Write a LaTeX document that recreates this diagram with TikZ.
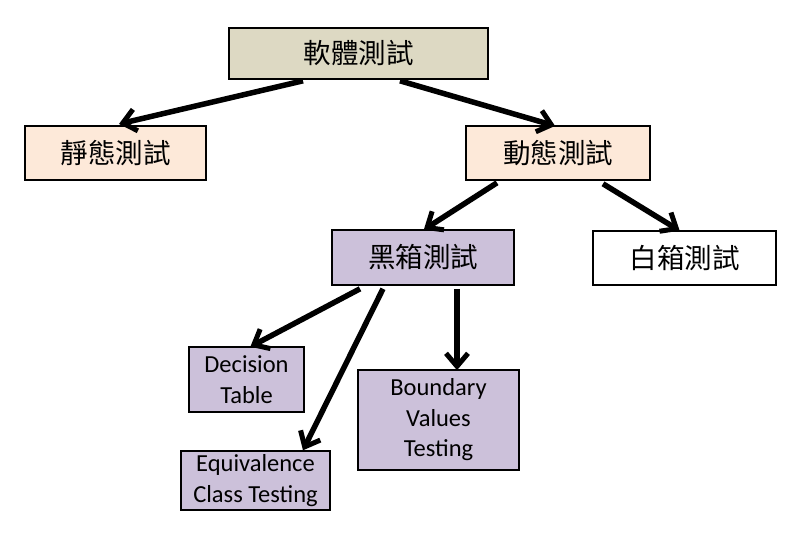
\documentclass[tikz,border=0pt]{standalone}
\usepackage{fontspec}
\setmainfont{Carlito}
\newfontfamily\cjk{Noto Sans CJK TC}
\usetikzlibrary{arrows.meta}
\definecolor{khaki}{HTML}{DDD9C3}
\definecolor{peach}{HTML}{FDE9D9}
\definecolor{lav}{HTML}{CCC1DA}
\tikzset{
  boxnode/.style={draw=black, line width=1.6pt, inner sep=0pt, align=center},
  cjkbox/.style={boxnode, font=\cjk\fontsize{27.5}{32}\selectfont},
  enbox/.style={boxnode, fill=lav, font=\fontsize{24.5}{30.5}\selectfont},
  arr/.style={line width=5.5pt, -{Straight Barb[length=13pt,width=22pt,line width=5pt]}, shorten >=1pt}
}
\begin{document}
\begin{tikzpicture}[x=1pt,y=-1pt]
\useasboundingbox (0,0) rectangle (802,538);
\node[cjkbox, fill=khaki, minimum width=259pt, minimum height=51pt] (top) at (358.5,53.5) {軟體測試};
\node[cjkbox, fill=peach, minimum width=181pt, minimum height=54pt] (static) at (115.5,153) {靜態測試};
\node[cjkbox, fill=peach, minimum width=184pt, minimum height=54pt] (dynamic) at (558,153) {動態測試};
\node[cjkbox, fill=lav, minimum width=182pt, minimum height=55pt] (black) at (423,257.5) {黑箱測試};
\node[cjkbox, fill=white, minimum width=183pt, minimum height=54pt] (white) at (684.5,258) {白箱測試};
\node[enbox, minimum width=115pt, minimum height=65pt] (dec) at (246.5,379.5) {Decision\\Table};
\node[enbox, minimum width=161pt, minimum height=100pt] (bound) at (438.5,420) {Boundary\\Values\\Testing};
\node[enbox, minimum width=149pt, minimum height=59pt] (equiv) at (255.5,480.5) {Equivalence\\Class Testing};
\draw[arr] ([xshift=-55.5pt,yshift=-1pt]top.south) -- ([xshift=2.5pt,yshift=1pt]static.north);
\draw[arr] ([xshift=41.5pt,yshift=-1pt]top.south) -- ([xshift=-2pt,yshift=-1pt]dynamic.north);
\draw[arr] ([xshift=-61pt,yshift=-2pt]dynamic.south) -- ([yshift=-1pt]black.north);
\draw[arr] ([xshift=45pt,yshift=-3pt]dynamic.south) -- ([xshift=-4pt,yshift=-1pt]white.north);
\draw[arr] ([xshift=-63pt,yshift=-3pt]black.south) -- ([xshift=3pt,yshift=-1pt]dec.north);
\draw[arr] ([xshift=-40pt,yshift=-3pt]black.south) -- ([xshift=47pt,yshift=-1pt]equiv.north);
\draw[arr] ([xshift=34pt,yshift=-3pt]black.south) -- ([xshift=18.5pt,yshift=-2pt]bound.north);
\end{tikzpicture}
\end{document}
